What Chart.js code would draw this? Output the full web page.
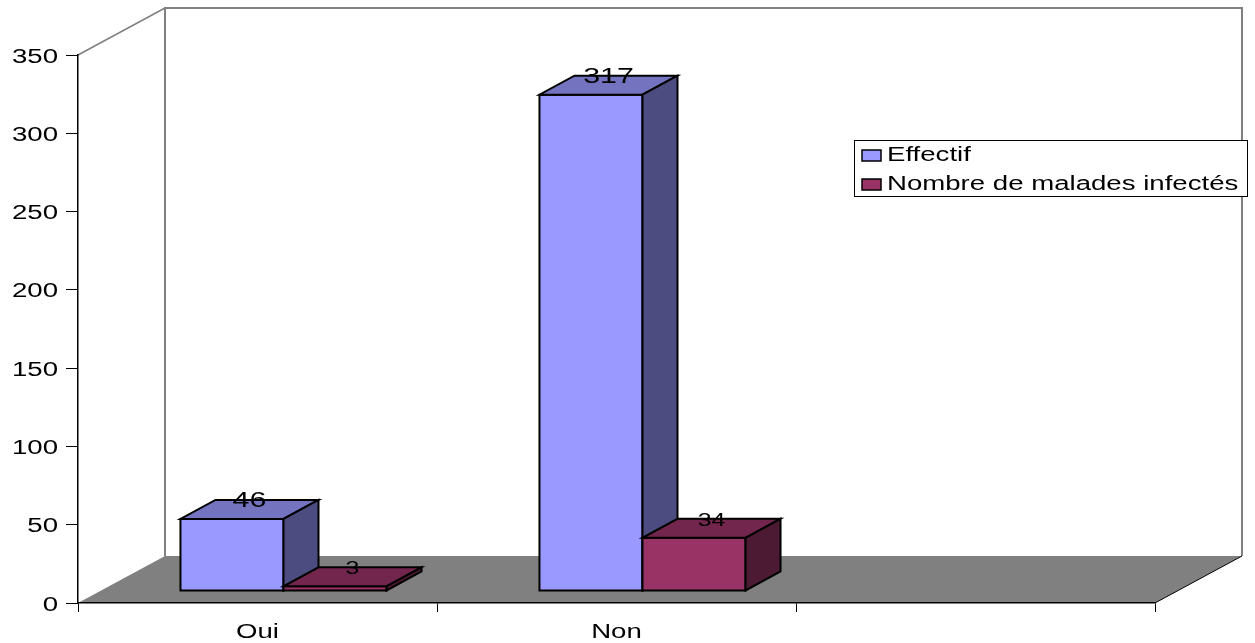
<!DOCTYPE html>
<html>
<head>
<meta charset="utf-8">
<script src="https://cdn.jsdelivr.net/npm/chart.js@4/dist/chart.umd.min.js"></script>
<style>
  html, body { margin: 0; padding: 0; background: #ffffff; }
  #wrap { width: 1255px; height: 643px; }
</style>
</head>
<body>
<div id="wrap"><canvas id="chart" width="1255" height="643"></canvas></div>
<script>
// Categories and series
const categories = ['Oui', 'Non', ''];
const effectif = [46, 317, null];
const maladesInfectes = [3, 34, null];
const seriesNames = ['Effectif', 'Nombre de malades infectés'];
const yTicks = [0, 50, 100, 150, 200, 250, 300, 350];

// Face colours for each series: front, top, side
const faceColors = [
  { front: '#9999FF', top: '#7373BF', side: '#4C4C80' },
  { front: '#993366', top: '#73264D', side: '#4D1A33' }
];
const valueFontSizes = [22, 18];

// Oblique projection used for the walls, floor and prisms
const WALL_DX = 87, WALL_DY = -47;
const BAR_OFF_DX = 26, BAR_OFF_DY = -12;
const BAR_DEPTH_DX = 35, BAR_DEPTH_DY = -19;
const TEXT_STRETCH = 1.38;
const FONT = '"Liberation Sans", Arial, sans-serif';

function stretchedText(ctx, txt, x, y, align, size) {
  ctx.save();
  ctx.font = size + 'px ' + FONT;
  ctx.fillStyle = '#000';
  ctx.textBaseline = 'alphabetic';
  ctx.textAlign = align;
  ctx.translate(x, y);
  ctx.scale(TEXT_STRETCH, 1);
  ctx.fillText(txt, 0, 0);
  ctx.restore();
}

const room3d = {
  id: 'room3d',
  beforeDraw(chart) {
    const { ctx, chartArea: a } = chart;
    ctx.save();
    ctx.fillStyle = '#fff';
    ctx.fillRect(0, 0, chart.width, chart.height);
    // floor
    ctx.beginPath();
    ctx.moveTo(a.left, a.bottom);
    ctx.lineTo(a.right, a.bottom);
    ctx.lineTo(a.right + WALL_DX, a.bottom + WALL_DY);
    ctx.lineTo(a.left + WALL_DX, a.bottom + WALL_DY);
    ctx.closePath();
    ctx.fillStyle = '#808080';
    ctx.fill();
    // back wall outline
    ctx.strokeStyle = '#808080';
    ctx.lineWidth = 2;
    ctx.beginPath();
    ctx.moveTo(a.left + WALL_DX, a.bottom + WALL_DY);
    ctx.lineTo(a.left + WALL_DX, a.top + WALL_DY);
    ctx.lineTo(a.right + WALL_DX, a.top + WALL_DY);
    ctx.lineTo(a.right + WALL_DX, a.bottom + WALL_DY);
    ctx.stroke();
    // side wall top edge
    ctx.lineWidth = 1.5;
    ctx.beginPath();
    ctx.moveTo(a.left, a.top);
    ctx.lineTo(a.left + WALL_DX, a.top + WALL_DY);
    ctx.stroke();
    // floor right edge
    ctx.strokeStyle = '#000';
    ctx.lineWidth = 1;
    ctx.beginPath();
    ctx.moveTo(a.right, a.bottom);
    ctx.lineTo(a.right + WALL_DX, a.bottom + WALL_DY);
    ctx.stroke();
    ctx.restore();
  },
  afterDatasetsDraw(chart) {
    const { ctx } = chart;
    const prisms = [];
    chart.data.datasets.forEach((ds, i) => {
      const meta = chart.getDatasetMeta(i);
      meta.data.forEach((el, j) => {
        const v = ds.data[j];
        if (v === null || v === undefined) return;
        const p = el.getProps(['x', 'y', 'base', 'width'], true);
        prisms.push({ i, j, v, ...p });
      });
    });
    prisms.sort((a, b) => (a.j - b.j) || (a.i - b.i));
    ctx.save();
    ctx.lineWidth = 2;
    ctx.lineJoin = 'miter';
    ctx.strokeStyle = '#000';
    const labels = [];
    prisms.forEach(p => {
      const c = faceColors[p.i];
      const l = p.x - p.width / 2 + BAR_OFF_DX;
      const r = p.x + p.width / 2 + BAR_OFF_DX;
      const t = p.y + BAR_OFF_DY;
      const b = p.base + BAR_OFF_DY;
      // front
      ctx.fillStyle = c.front;
      ctx.beginPath();
      ctx.rect(l, t, r - l, b - t);
      ctx.fill(); ctx.stroke();
      // top
      ctx.fillStyle = c.top;
      ctx.beginPath();
      ctx.moveTo(l, t); ctx.lineTo(r, t);
      ctx.lineTo(r + BAR_DEPTH_DX, t + BAR_DEPTH_DY);
      ctx.lineTo(l + BAR_DEPTH_DX, t + BAR_DEPTH_DY);
      ctx.closePath();
      ctx.fill(); ctx.stroke();
      // side
      ctx.fillStyle = c.side;
      ctx.beginPath();
      ctx.moveTo(r, t);
      ctx.lineTo(r + BAR_DEPTH_DX, t + BAR_DEPTH_DY);
      ctx.lineTo(r + BAR_DEPTH_DX, b + BAR_DEPTH_DY);
      ctx.lineTo(r, b);
      ctx.closePath();
      ctx.fill(); ctx.stroke();
      labels.push({
        txt: String(p.v),
        x: (l + r) / 2 + BAR_DEPTH_DX / 2,
        y: t + BAR_DEPTH_DY / 2 - 2.5,
        size: valueFontSizes[p.i]
      });
    });
    ctx.restore();
    labels.forEach(lb => stretchedText(ctx, lb.txt, lb.x, lb.y, 'center', lb.size));
  },
  afterDraw(chart) {
    const { ctx } = chart;
    const ys = chart.scales.y, xs = chart.scales.x;
    // value axis labels
    ys.ticks.forEach(tk => {
      stretchedText(ctx, String(tk.value), 58, ys.getPixelForValue(tk.value) + 7.5, 'right', 20);
    });
    // category labels
    chart.data.labels.forEach((lab, j) => {
      if (lab) stretchedText(ctx, lab, xs.getPixelForValue(j), 638, 'center', 20);
    });
    // legend
    ctx.save();
    ctx.fillStyle = '#fff';
    ctx.strokeStyle = '#000';
    ctx.lineWidth = 1;
    ctx.fillRect(854, 140, 394, 57);
    ctx.strokeRect(854.5, 140.5, 393, 56);
    chart.data.datasets.forEach((ds, i) => {
      const y0 = 150 + i * 29;
      ctx.fillStyle = faceColors[i].front;
      ctx.fillRect(862, y0, 19, 11);
      ctx.lineWidth = 1.5;
      ctx.strokeRect(862, y0, 19, 11);
      stretchedText(ctx, ds.label, 887, y0 + 11, 'left', 20);
    });
    ctx.restore();
  }
};

new Chart(document.getElementById('chart'), {
  type: 'bar',
  data: {
    labels: categories,
    datasets: [
      { label: seriesNames[0], data: effectif, backgroundColor: 'rgba(0,0,0,0)', borderWidth: 0 },
      { label: seriesNames[1], data: maladesInfectes, backgroundColor: 'rgba(0,0,0,0)', borderWidth: 0 }
    ]
  },
  options: {
    responsive: false,
    devicePixelRatio: 1,
    animation: false,
    layout: { padding: { left: 0, right: 100, top: 55, bottom: 0 } },
    datasets: { bar: { categoryPercentage: 0.574, barPercentage: 1 } },
    plugins: { legend: { display: false }, tooltip: { enabled: false } },
    scales: {
      x: {
        offset: true,
        grid: { offset: true, drawOnChartArea: false, drawTicks: true, tickLength: 9, color: '#000', lineWidth: 1 },
        border: { display: true, color: '#000', width: 1.5 },
        ticks: { display: false },
        afterFit(scale) { scale.height = 40; }
      },
      y: {
        min: 0, max: 350,
        afterBuildTicks(scale) { scale.ticks = yTicks.map(v => ({ value: v })); },
        grid: { drawOnChartArea: false, drawTicks: true, tickLength: 12, color: '#000', lineWidth: 1 },
        border: { display: true, color: '#000', width: 1.5 },
        ticks: { display: false },
        afterFit(scale) { scale.width = 78; }
      }
    }
  },
  plugins: [room3d]
});
</script>
</body>
</html>
